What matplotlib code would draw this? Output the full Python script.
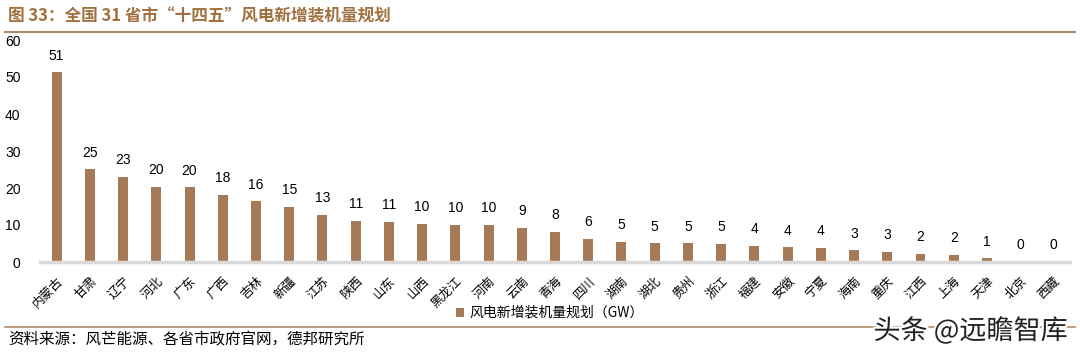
import matplotlib.pyplot as plt
import matplotlib.patheffects as pe

plt.rcParams['font.family'] = ['Noto Sans CJK SC', 'DejaVu Sans']

# provinces and planned new wind capacity (GW)
provinces = ['内蒙古', '甘肃', '辽宁', '河北', '广东', '广西', '吉林', '新疆', '江苏', '陕西',
             '山东', '山西', '黑龙江', '河南', '云南', '青海', '四川', '湖南', '湖北', '贵州',
             '浙江', '福建', '安徽', '宁夏', '海南', '重庆', '江西', '上海', '天津', '北京', '西藏']
values = [51.3, 25.1, 23.0, 20.4, 20.2, 18.1, 16.4, 14.9, 12.8, 11.2,
          10.9, 10.3, 10.1, 10.1, 9.2, 8.1, 6.2, 5.4, 5.1, 5.1,
          4.9, 4.3, 4.0, 3.9, 3.2, 2.7, 2.2, 1.9, 1.0, 0.0, 0.0]

bar_color = '#A67A56'
brown = '#A0703F'

fig = plt.figure(figsize=(10.8, 3.56), dpi=100)
ax = fig.add_axes([40/1080, 1-262/356, 1030/1080, 222/356])

x = range(len(provinces))
bars = ax.bar(x, values, width=0.3, color=bar_color, label='风电新增装机量规划（GW）', zorder=2)
for i, v in enumerate(values):
    ax.text(i, v + 2.6, '{:.0f}'.format(v), ha='center', va='bottom', fontsize=10,
            family=['Liberation Sans', 'DejaVu Sans'])

ax.set_xlim(-0.5, len(provinces) - 0.5)
ax.set_ylim(0, 60)
ax.set_yticks([0, 10, 20, 30, 40, 50, 60])
ax.set_yticklabels([0, 10, 20, 30, 40, 50, 60], family=['Liberation Sans', 'DejaVu Sans'], fontsize=10)
ax.set_xticks(list(x))
ax.set_xticklabels(provinces, rotation=45, ha='right', rotation_mode='anchor', fontsize=9)
ax.tick_params(axis='both', length=0)
ax.tick_params(axis='y', pad=14)
ax.tick_params(axis='x', pad=9)
for s in ['top', 'right', 'left']:
    ax.spines[s].set_visible(False)
ax.spines['bottom'].set_color('#D9D9D9')
ax.spines['bottom'].set_linewidth(2.5)

leg = fig.legend(loc='center left', bbox_to_anchor=(443/1080, 1-313/356), frameon=False,
                 fontsize=10, handlelength=0.6, handleheight=0.6, handletextpad=0.4)

# title and rules
fig.text(8/1080, 1-17/356, '图 33：全国 31 省市“十四五”风电新增装机量规划', fontsize=12,
         fontweight='bold', color=brown, va='center', ha='left')
fig.add_artist(plt.Line2D([5/1080, 1075/1080], [1-32/356, 1-32/356], color='#B38A66', lw=1.5))
fig.add_artist(plt.Line2D([5/1080, 1075/1080], [1-327/356, 1-327/356], color='#B38A66', lw=1.2))

fig.text(8/1080, 1-340/356, '资料来源：风芒能源、各省市政府官网，德邦研究所', fontsize=11.2,
         va='center', ha='left')

fig.text(1068/1080, 1-331/356, '头条 @远瞻智库', fontsize=19.5, va='center', ha='right',
         color='#222222', path_effects=[pe.withStroke(linewidth=3, foreground='white')])

fig.savefig('out.png', dpi=100)
